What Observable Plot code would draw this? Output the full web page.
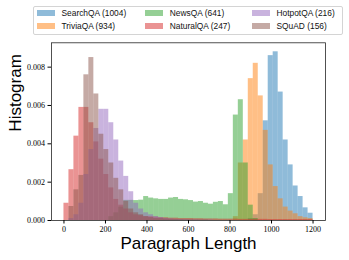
<!DOCTYPE html>
<html><head><meta charset="utf-8">
<script src="https://cdn.jsdelivr.net/npm/d3@7"></script>
<script src="https://cdn.jsdelivr.net/npm/@observablehq/plot@0.6"></script>
<style>
body{margin:0;background:#fff;}
#wrap{position:relative;width:349px;height:260px;overflow:hidden;}
#legend{position:relative;height:38px;font-family:"Liberation Sans",sans-serif;font-size:8.4px;color:#111;}
.box{position:absolute;left:33px;top:5.5px;width:310px;height:29.5px;border:1px solid #d4d4d4;border-radius:2px;box-sizing:border-box;}
.item{position:absolute;display:flex;align-items:center;height:10px;white-space:nowrap;}
.sw{width:18.3px;height:6px;margin-right:6.5px;opacity:0.5;}
#chart svg{display:block;}
</style></head>
<body><div id="wrap"><div id="legend"><div class="box"></div></div><div id="chart"></div></div>
<script>
const seriesNames = ["SearchQA", "TriviaQA", "NewsQA", "NaturalQA", "HotpotQA", "SQuAD"];
const seriesMeans = [1004, 934, 641, 247, 216, 156];
const seriesColors = ["#1f77b4", "#ff7f0e", "#2ca02c", "#d62728", "#9467bd", "#8c564b"];
const binEdges = d3.range(0, 1201, 24);
const xTicks = [0, 200, 400, 600, 800, 1000, 1200];
const yTicks = [0, 0.002, 0.004, 0.006, 0.008];
const xLabel = "Paragraph Length";
const yLabel = "Histogram";

const searchQA = [
  0,0,0,0,0,0,0,0,0,0,
  0,0,0,0,0,0,0,0,0,0,
  0,0,0,0,0,0,0,0,0,0,
  0,0,0,0,0,0,0,0.0001,0.0003,0.0014,
  0.0052,0.0086,0.0088,0.0067,0.0042,0.0029,0.0018,0.00125,0.00066,0.00038
];
const triviaQA = [
  0,0,0,0,0,0,0,0,0,0,
  0,0,0,0,0,0,0,0,0,0,
  0,0,0,0,0,0,0,0,0,0,
  0,0,0,0,0.0002,0.003,0.0042,0.0074,0.0082,0.0065,
  0.0047,0.0029,0.00177,0.00113,0.0007,0.00049,0.00035,0.0002,0.00014,0.0001
];
const newsQA = [
  0,0,0,0,0,0,0,0,0,0.0002,
  0.0004,0.0007,0.00105,0.00105,0.00104,0.00106,0.00125,0.00117,0.00113,0.0011,
  0.0011,0.00117,0.0012,0.0011,0.00108,0.00104,0.00096,0.00099,0.0009,0.00085,
  0.00095,0.00099,0.00082,0.0014,0.0055,0.0063,0.003,0.0008,0.0001,0,
  0,0,0,0,0,0,0,0,0,0
];
const naturalQA = [
  0.0009,0.00265,0.0044,0.0059,0.0059,0.0051,0.0041,0.0032,0.0024,0.0017,
  0.0011,0.0008,0.0006,0.0004,0.0003,0.00025,0.0002,0.0002,0.00018,0.00015,
  0.00014,0.00012,0.00012,0.0001,0.0001,0.0001,0.00009,0.00009,0.00008,0.00008,
  0.00008,0.00007,0.00007,0.00007,0.00007,0.00006,0.00006,0.00006,0.00006,0.00006,
  0.00006,0.00005,0.00005,0.00005,0.00005,0.00005,0.00005,0.00005,0.00005,0.00005
];
const hotpotQA = [
  0,0.0001,0.0003,0.0009,0.0024,0.0037,0.0048,0.0058,0.0058,0.0051,
  0.0042,0.0031,0.0023,0.0015,0.0009,0.0006,0.0004,0.0003,0.0002,0.00015,
  0.0001,0.00008,0.00006,0.00005,0.00004,0.00003,0.00003,0.00002,0.00002,0.00002,
  0,0,0,0,0,0,0,0,0,0,
  0,0,0,0,0,0,0,0,0,0
];
const squad = [
  0,0.00073,0.0016,0.00235,0.0076,0.0085,0.0066,0.0045,0.0037,0.003,
  0.0022,0.0016,0.001,0.0006,0.0004,0.0003,0.0002,0.00015,0.0001,0.0001,
  0.00008,0.00006,0.00005,0.00004,0.00003,0.00003,0.00002,0.00002,0.00002,0,
  0,0,0,0,0,0,0,0,0,0,
  0,0,0,0,0,0,0,0,0,0
];
const seriesValues = [searchQA, triviaQA, newsQA, naturalQA, hotpotQA, squad];

// legend (matplotlib column-major, 3 columns x 2 rows)
const legend = document.getElementById("legend");
const colX = [36.7, 145, 251.7];
const rowY = [8.3, 21];
seriesNames.forEach((name, i) => {
  const item = document.createElement("div");
  item.className = "item";
  item.style.left = colX[Math.floor(i / 2)] + "px";
  item.style.top = rowY[i % 2] + "px";
  const sw = document.createElement("span");
  sw.className = "sw";
  sw.style.background = seriesColors[i];
  const tx = document.createElement("span");
  tx.textContent = `${name} (${seriesMeans[i]})`;
  item.appendChild(sw);
  item.appendChild(tx);
  legend.appendChild(item);
});

const rows = [];
seriesNames.forEach((name, s) => {
  seriesValues[s].forEach((v, i) => {
    if (v > 0) rows.push({series: name, x1: binEdges[i], x2: binEdges[i + 1], value: v});
  });
});

const chart = Plot.plot({
  width: 349,
  height: 222,
  marginTop: 4.3,
  marginBottom: 40,
  marginLeft: 51,
  marginRight: 24,
  style: {fontFamily: "'Liberation Serif', serif", fontSize: "8px", background: "white", color: "black"},
  x: {domain: [-60, 1260]},
  y: {domain: [0, 0.00927]},
  color: {domain: seriesNames, range: seriesColors},
  marks: [
    Plot.rect(rows, {x1: "x1", x2: "x2", y1: 0, y2: "value", fill: "series", fillOpacity: 0.5}),
    Plot.frame({stroke: "#262626", strokeWidth: 0.8}),
    Plot.axisX({ticks: xTicks, tickSize: 3.5, tickPadding: 2.5, label: null, tickFormat: d => String(d)}),
    Plot.axisY({ticks: yTicks, tickSize: 3.5, tickPadding: 3, label: null, tickFormat: d3.format(".3f")}),
    Plot.text([xLabel], {text: d => d, frameAnchor: "bottom", dy: 23, fontSize: 17, fontFamily: "'Liberation Sans', sans-serif", lineAnchor: "middle"}),
    Plot.text([yLabel], {text: d => d, frameAnchor: "left", dx: -36, rotate: -90, fontSize: 17, fontFamily: "'Liberation Sans', sans-serif", lineAnchor: "middle"})
  ]
});
document.getElementById("chart").appendChild(chart);
</script>
</body></html>
